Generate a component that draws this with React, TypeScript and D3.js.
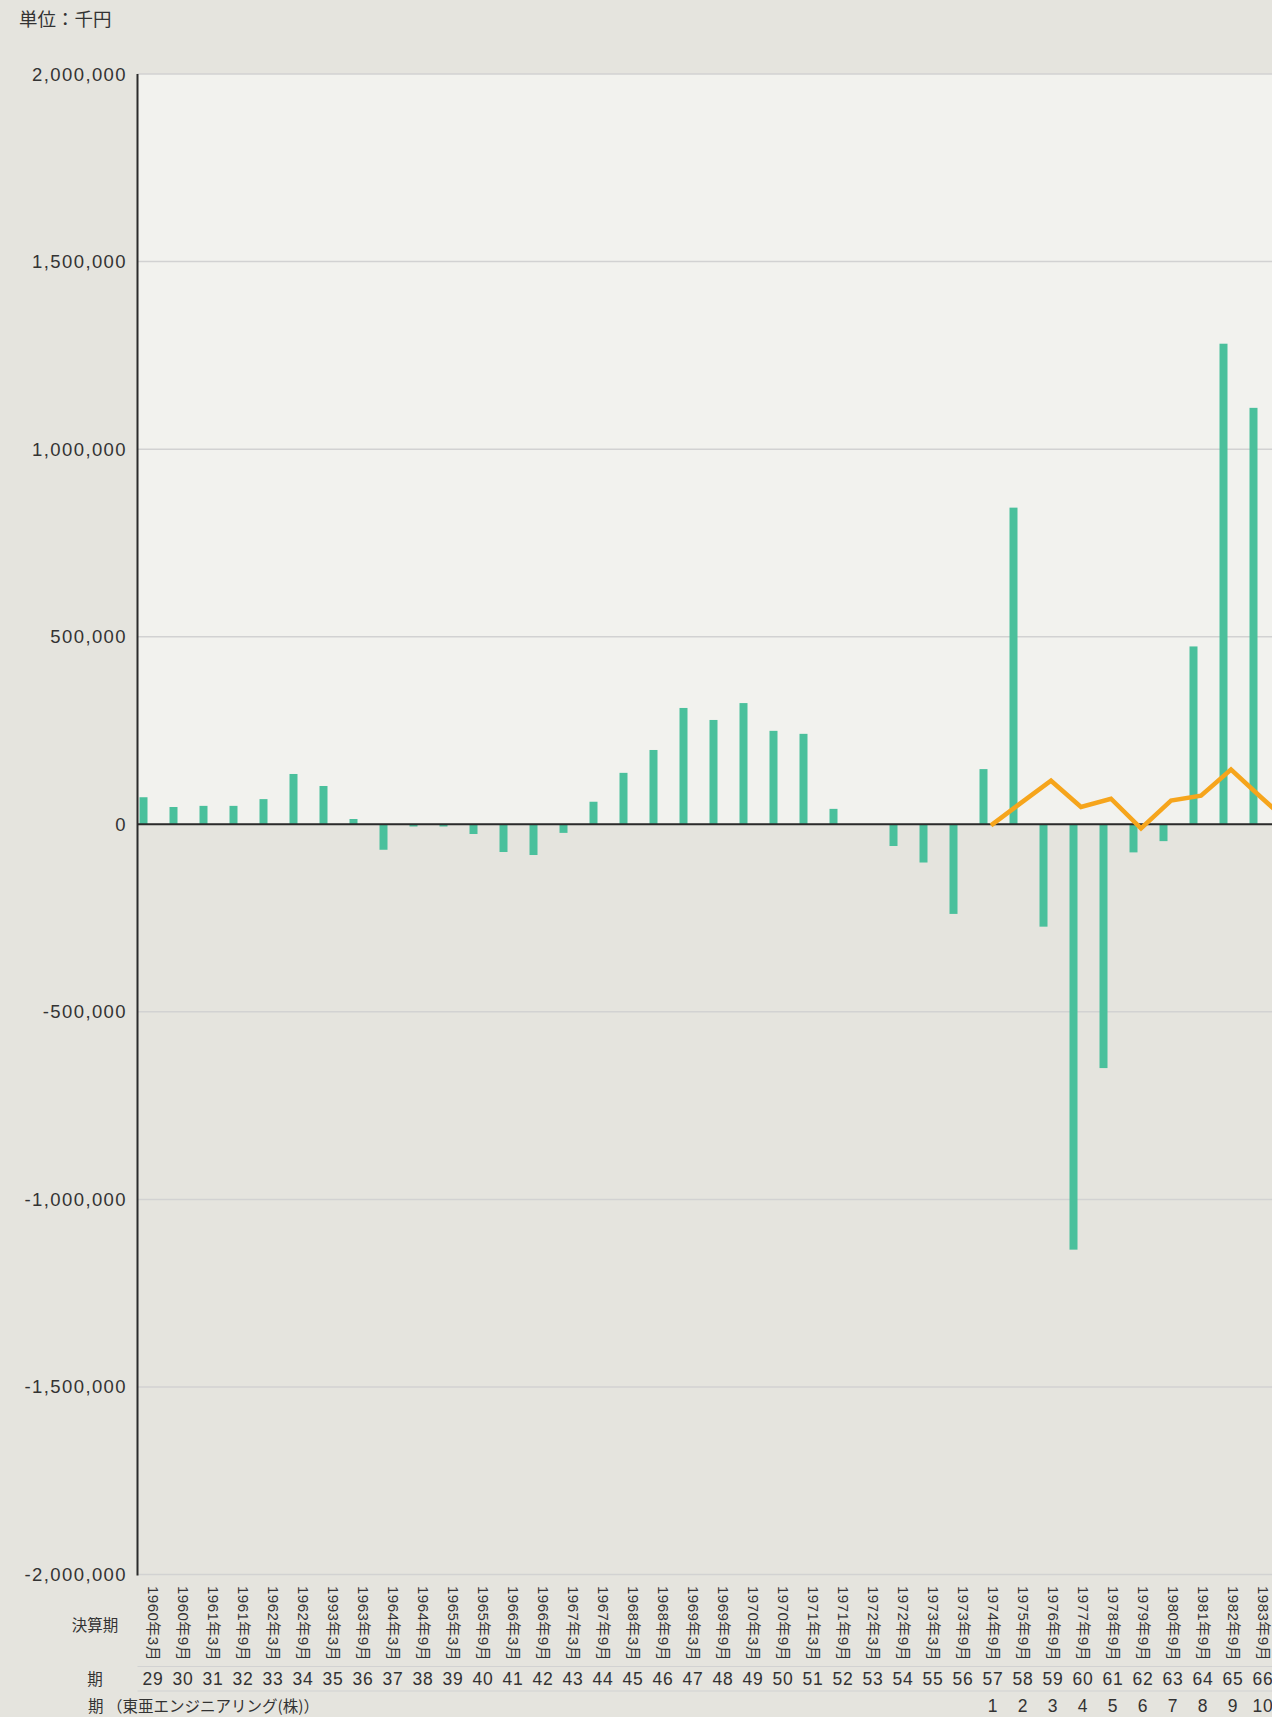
import React from 'react';
import * as d3 from 'd3';

// Period numbers (期)
const periods: number[] = [
  29, 30, 31, 32, 33, 34, 35, 36, 37, 38, 39, 40, 41, 42, 43, 44, 45, 46, 47,
  48, 49, 50, 51, 52, 53, 54, 55, 56, 57, 58, 59, 60, 61, 62, 63, 64, 65, 66, 67,
];

// Fiscal period labels (決算期)
const fiscalLabels: string[] = [
  '1960年3月', '1960年9月', '1961年3月', '1961年9月', '1962年3月', '1962年9月',
  '1993年3月', '1963年9月', '1964年3月', '1964年9月', '1965年3月', '1965年9月',
  '1966年3月', '1966年9月', '1967年3月', '1967年9月', '1968年3月', '1968年9月',
  '1969年3月', '1969年9月', '1970年3月', '1970年9月', '1971年3月', '1971年9月',
  '1972年3月', '1972年9月', '1973年3月', '1973年9月', '1974年9月', '1975年9月',
  '1976年9月', '1977年9月', '1978年9月', '1979年9月', '1980年9月', '1981年9月',
  '1982年9月', '1983年9月', '1984年9月',
];

// 期（東亜エンジニアリング(株)）
const subPeriods: (number | null)[] = [
  null, null, null, null, null, null, null, null, null, null, null, null, null,
  null, null, null, null, null, null, null, null, null, null, null, null, null,
  null, null, 1, 2, 3, 4, 5, 6, 7, 8, 9, 10, 11,
];

// Bar series (千円)
const barValues: (number | null)[] = [
  72000, 46000, 49000, 49000, 67000, 134000, 102000, 14000, -68000, -6000,
  -6000, -26000, -74000, -82000, -23000, 60000, 137000, 198000, 310000, 278000,
  323000, 249000, 241000, 41000, -2000, -58000, -102000, -239000, 147000, 844000,
  -273000, -1134000, -650000, -75000, -45000, 474000, 1281000, 1110000, null,
];

// Line series (千円)
const lineValues: (number | null)[] = [
  null, null, null, null, null, null, null, null, null, null, null, null, null,
  null, null, null, null, null, null, null, null, null, null, null, null, null,
  null, null, -3000, 57000, 116000, 46000, 68000, -11000, 63000, 76000, 146000,
  72000, 0,
];

const yTicks: number[] = [
  2000000, 1500000, 1000000, 500000, 0, -500000, -1000000, -1500000, -2000000,
];

const W = 1272;
const H = 1717;
const plotLeft = 137.5;
const plotTop = 74;
const plotBottom = 1574.5;
const step = 30;

const numFont = '"Liberation Sans", Arial, "Noto Sans CJK JP", sans-serif';
const jpFont = '"Noto Sans CJK JP", "Liberation Sans", sans-serif';
const textColor = '#333333';
const bgColor = '#e5e4de';
const plotBg = '#f2f2ee';
const gridColor = '#d2d2d2';
const barColor = '#4ac09c';
const lineColor = '#f6a51c';

export default function App() {
  const keys = periods.map(String);
  const x = d3
    .scaleBand<string>()
    .domain(keys)
    .range([plotLeft, plotLeft + step * keys.length])
    .paddingInner(0)
    .paddingOuter(0);
  const y = d3.scaleLinear().domain([-2000000, 2000000]).range([plotBottom, plotTop]);
  const fmtBase = d3.format(',');
  const fmt = (v: number) => fmtBase(v).replace('\u2212', '-');

  const lineData = keys.map((k, i) => ({ k, v: lineValues[i] }));
  const linePath = d3
    .line<{ k: string; v: number | null }>()
    .defined((d) => d.v !== null)
    .x((d) => (x(d.k) as number) + 13.5)
    .y((d) => y(d.v as number))(lineData);

  const zeroY = y(0);

  return (
    <div
      style={{
        position: 'absolute',
        left: 0,
        top: 0,
        width: W,
        height: H,
        overflow: 'hidden',
        background: bgColor,
      }}
    >
      <svg width={W} height={H} style={{ display: 'block' }}>
        <rect x={0} y={0} width={W} height={H} fill={bgColor} />
        <text
          x={19}
          y={26}
          fontFamily={jpFont}
          fontSize={18.5}
          fill={textColor}
        >
          単位：千円
        </text>

        {/* upper plot background */}
        <rect
          x={plotLeft}
          y={plotTop}
          width={W - plotLeft}
          height={zeroY - plotTop}
          fill={plotBg}
        />

        {/* grid lines */}
        {yTicks.map((t) => (
          <line
            key={'g' + t}
            x1={plotLeft}
            x2={W}
            y1={y(t)}
            y2={y(t)}
            stroke={gridColor}
            strokeWidth={1.5}
          />
        ))}

        {/* y tick labels */}
        {yTicks.map((t) => (
          <text
            key={'t' + t}
            x={127}
            y={y(t)}
            textAnchor="end"
            dominantBaseline="central"
            fontFamily={numFont}
            fontSize={18.5}
            letterSpacing={1.4}
            fill={textColor}
          >
            {fmt(t)}
          </text>
        ))}

        {/* bars */}
        {keys.map((k, i) => {
          const v = barValues[i];
          if (v === null) return null;
          const y0 = y(Math.max(0, v));
          const y1 = y(Math.min(0, v));
          return (
            <rect
              key={'b' + k}
              x={(x(k) as number) + 2}
              y={y0}
              width={8}
              height={Math.max(0.5, y1 - y0)}
              fill={barColor}
            />
          );
        })}

        {/* zero line */}
        <line
          x1={plotLeft}
          x2={W}
          y1={zeroY}
          y2={zeroY}
          stroke="#2b2b2b"
          strokeWidth={2}
        />

        {/* line series */}
        <path
          d={linePath || ''}
          fill="none"
          stroke={lineColor}
          strokeWidth={4.5}
          strokeLinejoin="miter"
        />

        {/* y axis */}
        <line
          x1={plotLeft}
          x2={plotLeft}
          y1={plotTop}
          y2={plotBottom + 1}
          stroke="#2b2b2b"
          strokeWidth={2}
        />

        {/* fiscal labels (rotated) */}
        <text
          x={95}
          y={1624}
          textAnchor="middle"
          dominantBaseline="central"
          fontFamily={jpFont}
          fontSize={15.5}
          fill={textColor}
        >
          決算期
        </text>
        {keys.map((k, i) => {
          const cx = (x(k) as number) + 15.5;
          return (
            <text
              key={'f' + k}
              transform={`translate(${cx},${1586}) rotate(90)`}
              textAnchor="start"
              dominantBaseline="central"
              fontFamily={numFont}
              fontSize={15}
              letterSpacing={0.5}
              fill={textColor}
            >
              {fiscalLabels[i]}
            </text>
          );
        })}

        <line x1={plotLeft} x2={W} y1={1666.5} y2={1666.5} stroke={gridColor} strokeWidth={1.2} />

        {/* period row */}
        <text
          x={95}
          y={1678}
          textAnchor="middle"
          dominantBaseline="central"
          fontFamily={jpFont}
          fontSize={15.5}
          fill={textColor}
        >
          期
        </text>
        {keys.map((k) => (
          <text
            key={'p' + k}
            x={(x(k) as number) + 15.5}
            y={1678.5}
            textAnchor="middle"
            dominantBaseline="central"
            fontFamily={numFont}
            fontSize={17.5}
            letterSpacing={0.8}
            fill={textColor}
          >
            {k}
          </text>
        ))}

        <line x1={plotLeft} x2={W} y1={1691} y2={1691} stroke={gridColor} strokeWidth={1.2} />

        {/* sub-period row */}
        <text
          x={88}
          y={1705}
          textAnchor="start"
          dominantBaseline="central"
          fontFamily={jpFont}
          fontSize={15.5}
          fill={textColor}
        >
          期 （東亜エンジニアリング(株)）
        </text>
        {keys.map((k, i) => {
          const s = subPeriods[i];
          if (s === null) return null;
          return (
            <text
              key={'s' + k}
              x={(x(k) as number) + 15.5}
              y={1705.5}
              textAnchor="middle"
              dominantBaseline="central"
              fontFamily={numFont}
              fontSize={17.5}
              letterSpacing={0.8}
              fill={textColor}
            >
              {s}
            </text>
          );
        })}
      </svg>
    </div>
  );
}
